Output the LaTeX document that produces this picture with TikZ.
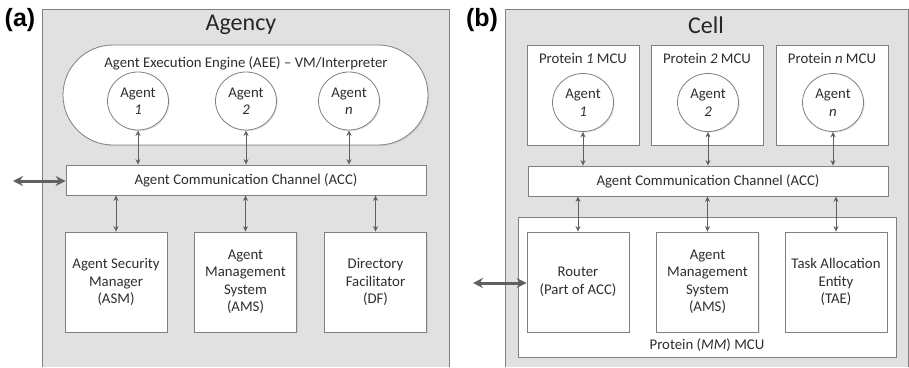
\documentclass[tikz,border=0pt]{standalone}
\usepackage{fontspec}
\setmainfont{Carlito}
\newfontfamily\labfont{Liberation Sans}
\usetikzlibrary{arrows.meta,shapes.geometric,shadows}
\definecolor{panelgray}{HTML}{E1E1E1}
\definecolor{linegray}{HTML}{808080}
\definecolor{arrgray}{HTML}{606060}
\begin{document}
\begin{tikzpicture}[x=1pt,y=-1pt,
  txt/.style={font=\fontsize{14.8}{17.5}\selectfont, text=black!82, align=center, inner sep=0pt},
  wbox/.style={txt, draw=linegray, fill=white, line width=0.8pt, drop shadow={opacity=0.18, shadow xshift=1.2pt, shadow yshift=-1.2pt}},
  agentnode/.style={wbox, ellipse, minimum width=61pt, minimum height=58pt},
  smallarr/.style={draw=arrgray, line width=0.9pt, {Stealth[length=5.5pt,width=5pt]}-{Stealth[length=5.5pt,width=5pt]}},
  bigarr/.style={draw=arrgray, line width=3pt, {Stealth[length=10pt,width=10pt]}-{Stealth[length=10pt,width=10pt]}},
  paneltitle/.style={font=\fontsize{24}{28}\selectfont, text=black!85, inner sep=0pt},
  panellab/.style={font=\labfont\bfseries\fontsize{25}{28}\selectfont, inner sep=0pt}
]
\useasboundingbox (0,0) rectangle (909,367);
% panels
\fill[panelgray] (42,9) rectangle (449,367);
\draw[linegray, line width=0.9pt] (42,367) -- (42,9) -- (449,9) -- (449,367);
\fill[panelgray] (505,9) rectangle (908,367);
\draw[linegray, line width=0.9pt] (505,367) -- (505,9) -- (908,9) -- (908,367);

\node[panellab] (la) at (20,20) {(a)};
\node[panellab] (lb) at (482,20) {(b)};
\node[paneltitle] (tA) at (241,25) {Agency};
\node[paneltitle] (tB) at (706,25) {Cell};

% ---------- (a) ----------
\node[wbox, minimum width=365pt, minimum height=100pt, rounded corners=50pt] (aee) at (245.5,95) {};
\node[txt] (aeet) at (246,63) {Agent Execution Engine (AEE) -- VM/Interpreter};
\node[agentnode] (a1) at (138,101) {Agent\\\textit{1}};
\node[agentnode] (a2) at (246,101) {Agent\\\textit{2}};
\node[agentnode] (a3) at (349,101) {Agent\\\textit{n}};
\node[wbox, minimum width=360pt, minimum height=30pt] (accA) at (246,180) {Agent Communication Channel (ACC)};
\node[wbox, minimum width=102pt, minimum height=100pt] (asm) at (116,282) {Agent Security\\Manager\\(ASM)};
\node[wbox, minimum width=102pt, minimum height=100pt] (amsA) at (245.5,282) {Agent\\Management\\System\\(AMS)};
\node[wbox, minimum width=102pt, minimum height=100pt] (df) at (375.5,282) {Directory\\Facilitator\\(DF)};
\foreach \n in {a1,a2,a3}{\draw[smallarr] (\n.south) -- (\n.south |- accA.north);}
\draw[smallarr] (asm.north |- accA.south) -- (asm.north);
\draw[smallarr] (amsA.north |- accA.south) -- (amsA.north);
\draw[smallarr] (df.north |- accA.south) -- (df.north);
\coordinate (extA) at (13,181);
\draw[bigarr] (extA) -- (extA -| accA.west);

% ---------- (b) ----------
\node[wbox, minimum width=112pt, minimum height=100pt] (p1) at (583,95) {};
\node[wbox, minimum width=112pt, minimum height=100pt] (p2) at (707,95) {};
\node[wbox, minimum width=112pt, minimum height=100pt] (p3) at (832,95) {};
\node[txt] (p1t) at (583,58) {Protein \textit{1} MCU};
\node[txt] (p2t) at (707,58) {Protein \textit{2} MCU};
\node[txt] (p3t) at (832,58) {Protein \textit{n} MCU};
\node[agentnode] (b1) at (583,102.5) {Agent\\\textit{1}};
\node[agentnode] (b2) at (708,102.5) {Agent\\\textit{2}};
\node[agentnode] (b3) at (833,102.5) {Agent\\\textit{n}};
\node[wbox, minimum width=360pt, minimum height=30pt] (accB) at (708,181) {Agent Communication Channel (ACC)};
\node[wbox, minimum width=378pt, minimum height=140pt] (mm) at (707,287) {};
\node[txt] (mmt) at (707,345) {Protein (\textit{MM}) MCU};
\node[wbox, minimum width=102pt, minimum height=100pt] (router) at (578,282) {Router\\(Part of ACC)};
\node[wbox, minimum width=102pt, minimum height=100pt] (amsB) at (707.5,282) {Agent\\Management\\System\\(AMS)};
\node[wbox, minimum width=102pt, minimum height=100pt] (tae) at (836,282) {Task Allocation\\Entity\\(TAE)};
\foreach \n in {b1,b2,b3}{\draw[smallarr] (\n.south) -- (\n.south |- accB.north);}
\draw[smallarr] (router.north |- accB.south) -- (router.north);
\draw[smallarr] (amsB.north |- accB.south) -- (amsB.north);
\draw[smallarr] (tae.north |- accB.south) -- (tae.north);
\coordinate (extB) at (473,283);
\draw[bigarr] (extB) -- (extB -| router.west);
\end{tikzpicture}
\end{document}
